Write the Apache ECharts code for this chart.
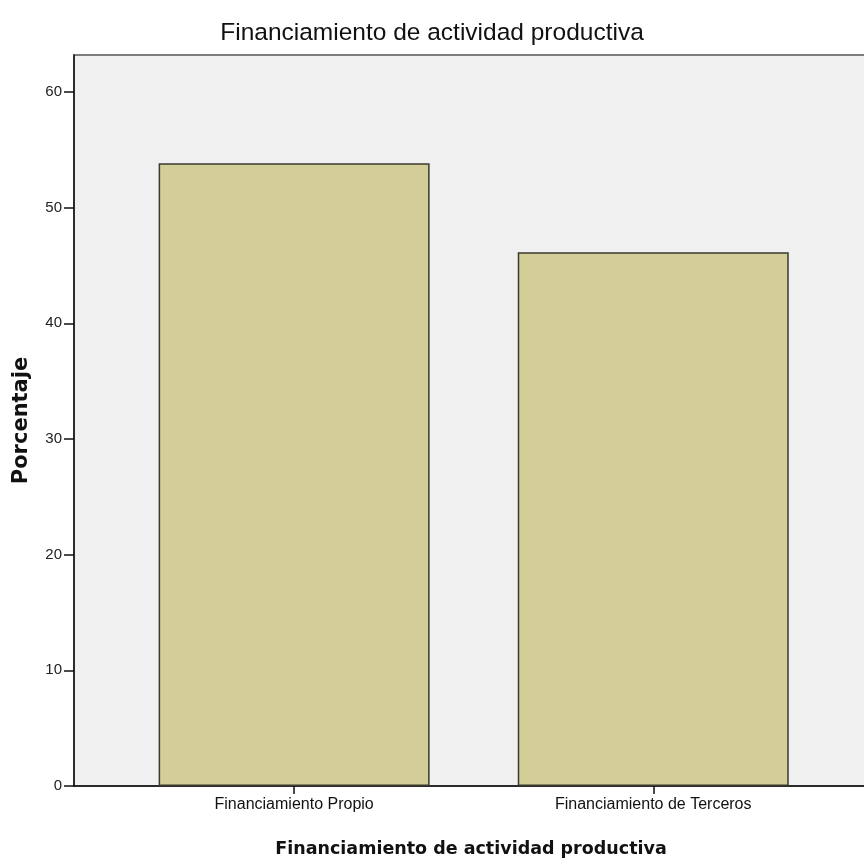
<!DOCTYPE html>
<html lang="es">
<head>
  <meta charset="UTF-8">
  <title>Financiamiento de actividad productiva</title>
  <style>
    html, body { margin: 0; padding: 0; background: #ffffff; }
  </style>
</head>
<body>
<div id="main" style="width: 864px;height: 867px"></div>
<script type="text/javascript" src="https://cdn.jsdelivr.net/npm/echarts@6/dist/echarts.min.js"></script>
<script>
// datos del grafico
var categorias = ['Financiamiento Propio', 'Financiamiento de Terceros'];
var porcentajes = [53.85, 46.15];
var yTicks = [0, 10, 20, 30, 40, 50, 60];

var titulo = 'Financiamiento de actividad productiva';
var nombreX = 'Financiamiento de actividad productiva';
var nombreY = 'Porcentaje';

var datosBarras = porcentajes.map(function (v, i) { return [i, v]; });

var option = {
  animation: false,
  backgroundColor: '#ffffff',
  title: {
    text: titulo,
    left: 'center',
    top: 16,
    textStyle: {
      fontFamily: 'Liberation Sans',
      fontSize: 24.5,
      fontWeight: 'normal',
      color: '#111'
    }
  },
  grid: {
    show: true,
    outerBoundsMode: 'none',
    left: 74,
    right: -4,
    top: 55,
    bottom: 81,
    backgroundColor: '#F0F0F0',
    borderColor: '#555',
    borderWidth: 1.5
  },
  xAxis: {
    type: 'value',
    min: -0.613,
    max: 1.598,
    name: nombreX,
    nameLocation: 'middle',
    nameGap: 54,
    nameTextStyle: {
      fontFamily: 'DejaVu Sans',
      fontWeight: 'bold',
      fontSize: 17.5,
      color: '#111'
    },
    splitLine: { show: false },
    axisLine: { show: true, onZero: false, lineStyle: { color: '#111', width: 1.5 } },
    axisTick: { show: true, customValues: [0, 1], length: 8, lineStyle: { color: '#111', width: 1.5 } },
    axisLabel: {
      customValues: [0, 1],
      margin: 11,
      fontFamily: 'Liberation Sans',
      fontSize: 16,
      color: '#111',
      formatter: function (v) { return categorias[Math.round(v)]; }
    }
  },
  yAxis: {
    type: 'value',
    min: 0,
    max: 63.2,
    name: nombreY,
    nameLocation: 'middle',
    nameGap: 42,
    nameTextStyle: {
      fontFamily: 'DejaVu Sans',
      fontWeight: 'bold',
      fontSize: 21,
      color: '#111'
    },
    splitLine: { show: false },
    axisLine: { show: true, onZero: false, lineStyle: { color: '#111', width: 1.5 } },
    axisTick: { show: true, customValues: yTicks, length: 10, lineStyle: { color: '#111', width: 1.5 } },
    axisLabel: {
      customValues: yTicks,
      margin: 12,
      fontFamily: 'Liberation Sans',
      fontSize: 15,
      color: '#222'
    }
  },
  series: [{
    type: 'bar',
    data: datosBarras,
    barWidth: 271,
    itemStyle: {
      color: '#D3CE97',
      borderColor: '#3a3a2e',
      borderWidth: 1.5
    }
  }]
};

var myChart = echarts.init(document.getElementById('main'));
myChart.setOption(option);
</script>
</body>
</html>
